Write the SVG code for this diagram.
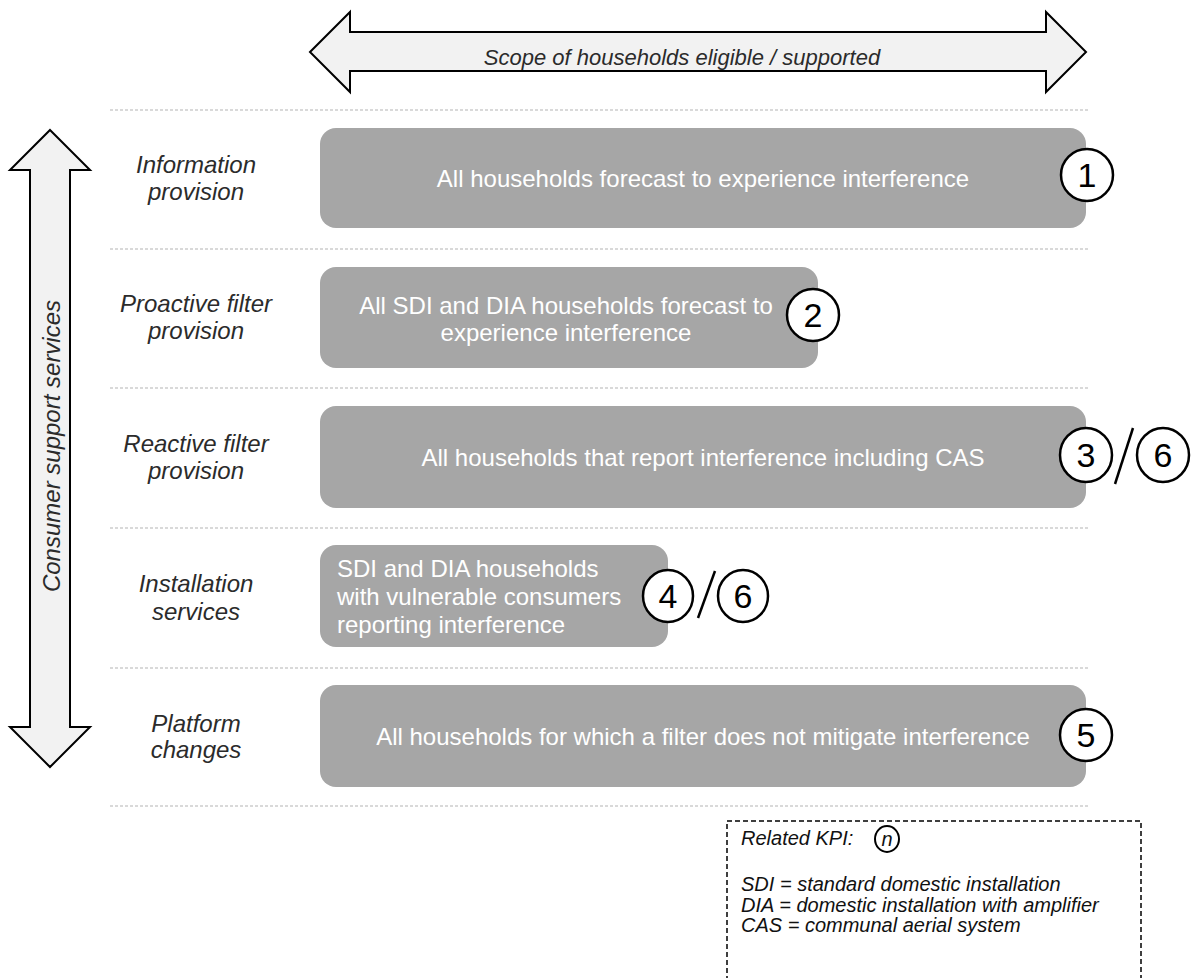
<svg xmlns="http://www.w3.org/2000/svg" width="1192" height="978" viewBox="0 0 1192 978">
<style>
.lbl{font-family:"Liberation Sans",Arial,sans-serif;font-style:italic;font-size:24px;fill:#2b2b2b;text-anchor:middle}
.box{fill:#a6a6a6}
.btxt{font-family:"Liberation Sans",Arial,sans-serif;font-size:24px;fill:#ffffff;text-anchor:middle}
.kpi{fill:#ffffff;stroke:#000;stroke-width:2.5}
.num{font-family:"Liberation Sans",Arial,sans-serif;font-size:34px;fill:#000;text-anchor:middle}
.sep{stroke:#b3b3b3;stroke-width:1;stroke-dasharray:3 2}
.arrow{fill:#f2f2f2;stroke:#000;stroke-width:2}
.slash{stroke:#000;stroke-width:2.5}
.leg{font-family:"Liberation Sans",Arial,sans-serif;font-style:italic;font-size:20px;fill:#111}
</style>
<rect width="1192" height="978" fill="#fff"/>
<g id="separators">
<line class="sep" x1="110" y1="110" x2="1090" y2="110"/>
<line class="sep" x1="110" y1="249" x2="1090" y2="249"/>
<line class="sep" x1="110" y1="388" x2="1090" y2="388"/>
<line class="sep" x1="110" y1="528" x2="1090" y2="528"/>
<line class="sep" x1="110" y1="668" x2="1090" y2="668"/>
<line class="sep" x1="110" y1="806" x2="1090" y2="806"/>
</g>
<g id="scope-arrow">
<polygon class="arrow" points="310,52 350,12 350,32 1046,32 1046,12 1086,52 1046,92 1046,71 350,71 350,92"/>
<text class="lbl" x="682" y="65" style="font-size:22px">Scope of households eligible / supported</text>
</g>
<g id="services-arrow">
<polygon class="arrow" points="50,130 90,170 70,170 70,727 90,727 50,767 10,727 30,727 30,170 10,170"/>
<text class="lbl" transform="translate(60,446) rotate(-90)">Consumer support services</text>
</g>
<g id="labels">
<text class="lbl" x="196" y="173">Information</text>
<text class="lbl" x="196" y="200">provision</text>
<text class="lbl" x="196" y="312">Proactive filter</text>
<text class="lbl" x="196" y="339">provision</text>
<text class="lbl" x="196" y="452">Reactive filter</text>
<text class="lbl" x="196" y="479">provision</text>
<text class="lbl" x="196" y="592">Installation</text>
<text class="lbl" x="196" y="620">services</text>
<text class="lbl" x="196" y="732">Platform</text>
<text class="lbl" x="196" y="758">changes</text>
</g>
<g id="node1">
<rect class="box" x="320" y="128" width="766" height="100" rx="16"/>
<text class="btxt" x="703" y="187">All households forecast to experience interference</text>
<ellipse class="kpi" cx="1087" cy="175" rx="26" ry="26"/>
<text class="num" x="1087" y="187">1</text>
</g>
<g id="node2">
<rect class="box" x="320" y="267" width="498" height="101" rx="16"/>
<text class="btxt" x="566" y="314">All SDI and DIA households forecast to</text>
<text class="btxt" x="566" y="341">experience interference</text>
<ellipse class="kpi" cx="813" cy="315" rx="26" ry="26"/>
<text class="num" x="813" y="327">2</text>
</g>
<g id="node3">
<rect class="box" x="320" y="406" width="766" height="102" rx="16"/>
<text class="btxt" x="703" y="466">All households that report interference including CAS</text>
<ellipse class="kpi" cx="1086" cy="455" rx="26" ry="27"/>
<text class="num" x="1086" y="467">3</text>
<line class="slash" x1="1133" y1="428" x2="1115" y2="484"/>
<ellipse class="kpi" cx="1163" cy="455" rx="26" ry="27"/>
<text class="num" x="1163" y="467">6</text>
</g>
<g id="node4">
<rect class="box" x="320" y="545" width="348" height="102" rx="16"/>
<text class="btxt" x="337" y="577" style="text-anchor:start">SDI and DIA households</text>
<text class="btxt" x="337" y="605" style="text-anchor:start">with vulnerable consumers</text>
<text class="btxt" x="337" y="633" style="text-anchor:start">reporting interference</text>
<ellipse class="kpi" cx="668" cy="596" rx="25" ry="26"/>
<text class="num" x="668" y="608">4</text>
<line class="slash" x1="715" y1="571" x2="698" y2="618"/>
<ellipse class="kpi" cx="743" cy="596" rx="25" ry="26"/>
<text class="num" x="743" y="608">6</text>
</g>
<g id="node5">
<rect class="box" x="320" y="685" width="766" height="102" rx="16"/>
<text class="btxt" x="703" y="745">All households for which a filter does not mitigate interference</text>
<ellipse class="kpi" cx="1086" cy="735" rx="26" ry="26"/>
<text class="num" x="1086" y="747">5</text>
</g>
<g id="legend">
<rect x="727" y="821" width="414" height="170" fill="none" stroke="#000" stroke-width="1.5" stroke-dasharray="5 3"/>
<text class="leg" x="741" y="845">Related KPI:</text>
<ellipse cx="887" cy="839" rx="12" ry="13" fill="#fff" stroke="#000" stroke-width="2"/>
<text class="leg" x="887" y="846" text-anchor="middle">n</text>
<text class="leg" x="741" y="891">SDI = standard domestic installation</text>
<text class="leg" x="741" y="912">DIA = domestic installation with amplifier</text>
<text class="leg" x="741" y="932">CAS = communal aerial system</text>
</g>
</svg>
